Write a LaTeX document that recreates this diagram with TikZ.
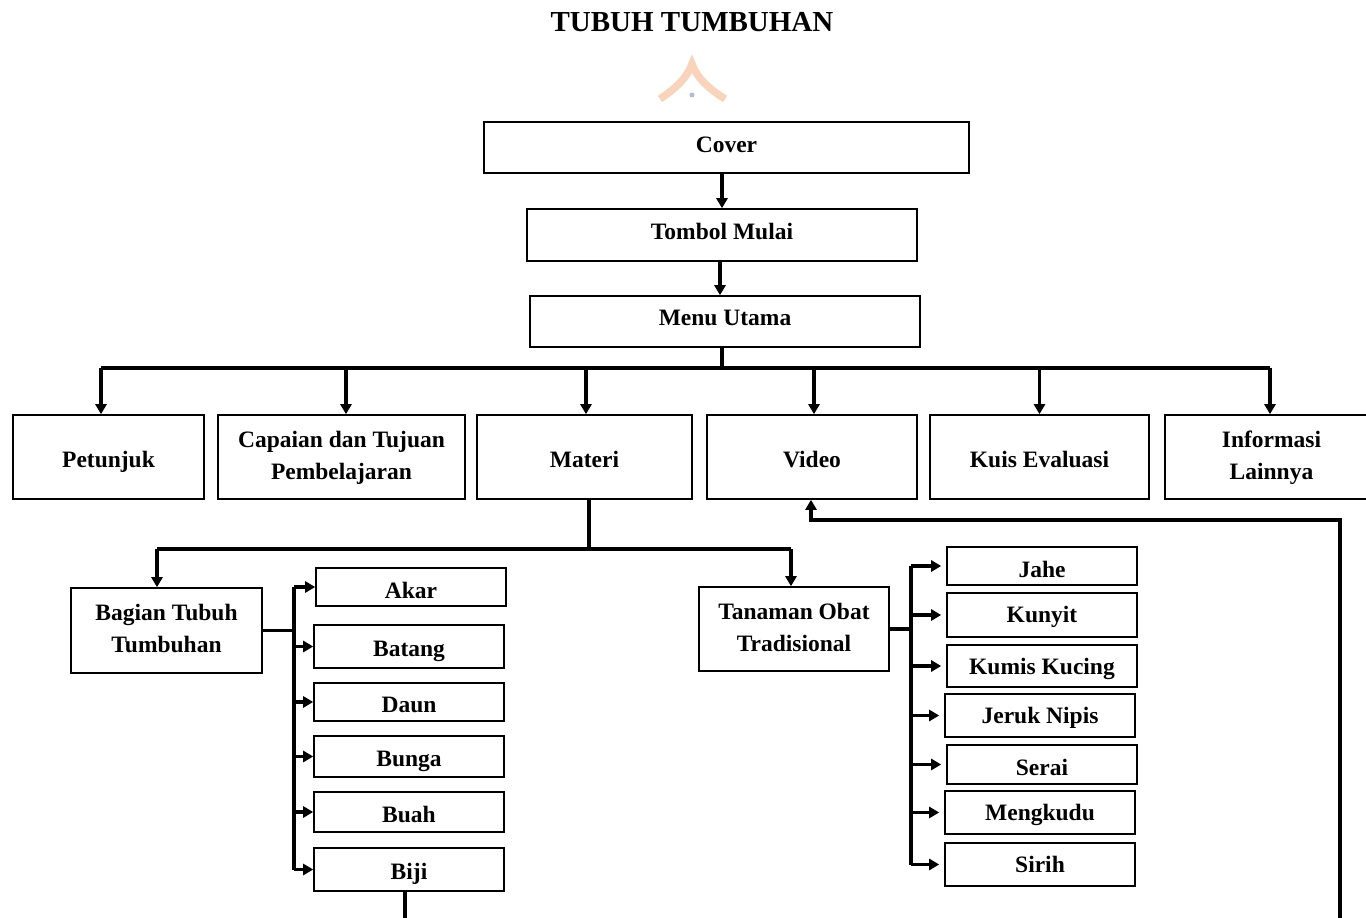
\documentclass[tikz,border=0pt]{standalone}
\usepackage{fontspec}
\setmainfont{Liberation Serif}
\usetikzlibrary{arrows.meta}
\tikzset{
  boxbase/.style={draw=black, line width=1.6pt, rectangle, inner sep=0pt, align=center,
    font=\fontsize{23.5}{32}\selectfont\bfseries},
  box/.style={boxbase, text height=#1, text depth=0pt},
  box/.default=21.6pt,
  twobox/.style={boxbase},
  conn/.style={draw=black, line width=3.4pt, line join=miter},
  arr/.style={conn, -{Triangle[length=10pt,width=11pt]}},
}
\newcommand{\twolines}[3]{\raisebox{#1}{\begin{tabular}{@{}c@{}}#2\\#3\end{tabular}}}
\begin{document}
\begin{tikzpicture}[x=1pt,y=-1pt]
\clip (0,0) rectangle (1366,918);
\fill[white] (0,0) rectangle (1366,918);
% title
\node[font=\fontsize{29}{32}\selectfont\bfseries] (title) at (692,22) {TUBUH TUMBUHAN};
% faint logo
\draw[color={rgb,255:red,250;green,212;blue,186}, line width=7.5pt]
  (660,99) .. controls (676,88) and (687,78) .. (692,64) .. controls (697,78) and (708,88) .. (725,99);
\fill[color={rgb,255:red,180;green,185;blue,222}] (692,95) circle (2.5pt);
% top chain
\node[box=9pt, minimum width=485pt, minimum height=51pt] (cover) at (726.5,147.5) {Cover};
\node[box=8pt, minimum width=390pt, minimum height=52pt] (tombol) at (722,235) {Tombol Mulai};
\node[box=8.5pt, minimum width=390pt, minimum height=51pt] (menu) at (725,321.5) {Menu Utama};
% level 2
\node[box, minimum width=191pt, minimum height=84pt] (pet) at (108.5,457) {Petunjuk};
\node[twobox, minimum width=247pt, minimum height=84pt] (cap) at (341.5,457) {\twolines{3.5pt}{Capaian dan Tujuan}{Pembelajaran}};
\node[box, minimum width=215pt, minimum height=84pt] (mat) at (584.5,457) {Materi};
\node[box, minimum width=210pt, minimum height=84pt] (vid) at (812,457) {Video};
\node[box, minimum width=219pt, minimum height=84pt] (kuis) at (1039.5,457) {Kuis Evaluasi};
\node[twobox, minimum width=213pt, minimum height=84pt] (info) at (1271.5,457) {\twolines{3.5pt}{Informasi}{Lainnya}};
% level 3
\node[twobox, minimum width=191pt, minimum height=85pt] (bag) at (166.5,630.5) {\twolines{5pt}{Bagian Tubuh}{Tumbuhan}};
\node[twobox, minimum width=190pt, minimum height=84pt] (tan) at (794,629) {\twolines{3.5pt}{Tanaman Obat}{Tradisional}};
% bagian children
\node[box=23pt, minimum width=190pt, minimum height=38pt] (akar) at (411,587) {Akar};
\node[box=20pt, minimum width=190pt, minimum height=43pt] (batang) at (409,646.5) {Batang};
\node[box=21pt, minimum width=190pt, minimum height=38pt] (daun) at (409,702) {Daun};
\node[box=20pt, minimum width=190pt, minimum height=41pt] (bunga) at (409,756.5) {Bunga};
\node[box=20pt, minimum width=190pt, minimum height=40pt] (buah) at (409,812) {Buah};
\node[box=20pt, minimum width=190pt, minimum height=43pt] (biji) at (409,869.5) {Biji};
% tanaman children
\node[box=23pt, minimum width=190pt, minimum height=38pt] (jahe) at (1042,566) {Jahe};
\node[box=15pt, minimum width=190pt, minimum height=44pt] (kunyit) at (1042,615) {Kunyit};
\node[box=17pt, minimum width=190pt, minimum height=42pt] (kumis) at (1042,666) {Kumis Kucing};
\node[box=16.5pt, minimum width=190pt, minimum height=43pt] (jeruk) at (1040,715.5) {Jeruk Nipis};
\node[box=22pt, minimum width=190pt, minimum height=39pt] (serai) at (1042,764.5) {Serai};
\node[box=15pt, minimum width=190pt, minimum height=43pt] (meng) at (1040,812.5) {Mengkudu};
\node[box=15pt, minimum width=190pt, minimum height=43pt] (sirih) at (1040,864.5) {Sirih};
% coordinates
\coordinate (busy) at (0,368);
\coordinate (maty) at (0,549);
\coordinate (bx) at (294,0);
\coordinate (tx) at (911,0);
\coordinate (rety) at (0,520);
\coordinate (bijiend) at (405,925);
\coordinate (retend) at (1340,925);
% top arrows
\draw[arr] (tombol.north |- cover.south) -- (tombol.north);
\draw[arr] ([xshift=-2pt]tombol.south) -- ([xshift=-2pt]tombol.south |- menu.north);
\draw[conn] ([xshift=-3pt]menu.south) -- ([xshift=-3pt]menu.south |- busy);
\draw[conn] ([xshift=-7.5pt]pet.north |- busy) -- ([xshift=-1.5pt]info.north |- busy);
\draw[arr] ([xshift=-7.5pt]pet.north |- busy) -- ([xshift=-7.5pt]pet.north);
\draw[arr] ([xshift=4.5pt]cap.north |- busy) -- ([xshift=4.5pt]cap.north);
\draw[arr] ([xshift=1.5pt]mat.north |- busy) -- ([xshift=1.5pt]mat.north);
\draw[arr] ([xshift=2pt]vid.north |- busy) -- ([xshift=2pt]vid.north);
\draw[arr] (kuis.north |- busy) -- (kuis.north);
\draw[arr] ([xshift=-1.5pt]info.north |- busy) -- ([xshift=-1.5pt]info.north);
% materi split
\draw[conn] ([xshift=4.5pt]mat.south) -- ([xshift=4.5pt]mat.south |- maty);
\draw[conn] ([xshift=-9.5pt]bag.north |- maty) -- ([xshift=-3pt]tan.north |- maty);
\draw[arr] ([xshift=-9.5pt]bag.north |- maty) -- ([xshift=-9.5pt]bag.north);
\draw[arr] ([xshift=-3pt]tan.north |- maty) -- ([xshift=-3pt]tan.north);
% bagian branches
\draw[conn] (bag.east) -- (bag.east -| bx);
\draw[conn] (akar.west -| bx) -- (biji.west -| bx);
\foreach \n in {akar,batang,daun,bunga,buah,biji} {
  \draw[arr] (\n.west -| bx) -- (\n.west);
}
% tanaman branches
\draw[conn] (tan.east) -- (tan.east -| tx);
\draw[conn] (jahe.west -| tx) -- (sirih.west -| tx);
\foreach \n in {jahe,kunyit,kumis,jeruk,serai,meng,sirih} {
  \draw[arr] (\n.west -| tx) -- ([xshift=-5pt]\n.west);
}
% tails
\draw[conn] (biji.south -| bijiend) -- (bijiend);
\draw[arr] (retend) -- (retend |- rety) -- ([xshift=-1pt]vid.south |- rety) -- ([xshift=-1pt]vid.south);
\end{tikzpicture}
\end{document}
